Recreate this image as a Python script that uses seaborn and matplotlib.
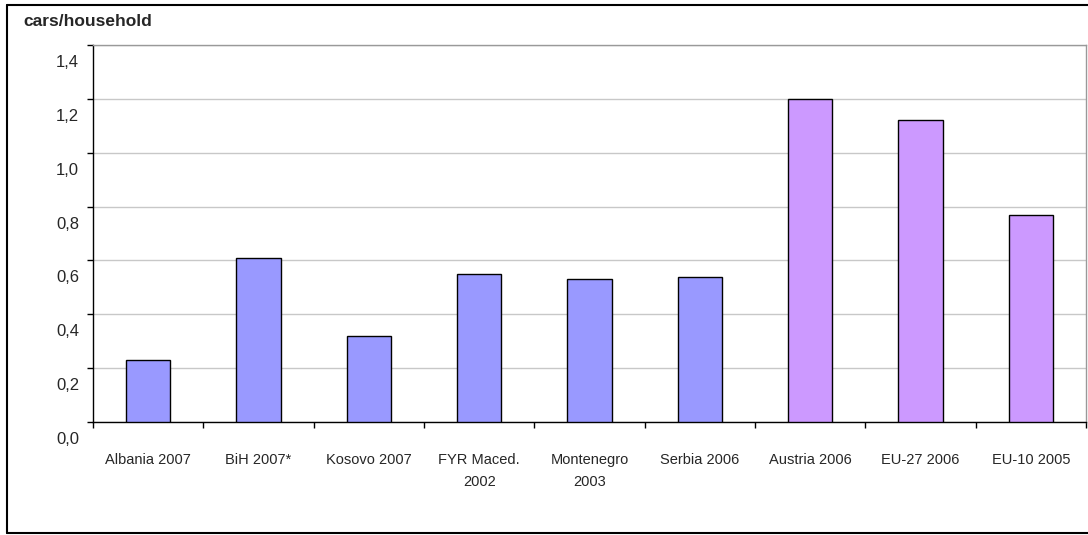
import matplotlib
matplotlib.use("Agg")
import matplotlib.pyplot as plt
import matplotlib.transforms as mtransforms
from matplotlib.lines import Line2D
import seaborn as sns
import pandas as pd

categories = ["Albania 2007", "BiH 2007*", "Kosovo 2007", "FYR Maced.\n2002",
              "Montenegro\n2003", "Serbia 2006", "Austria 2006", "EU-27 2006", "EU-10 2005"]
values = [0.23, 0.61, 0.32, 0.55, 0.53, 0.54, 1.20, 1.12, 0.77]
groups = ["region"] * 6 + ["eu"] * 3
group_colors = {"region": "#9999FF", "eu": "#CC99FF"}
yticks = [0.0, 0.2, 0.4, 0.6, 0.8, 1.0, 1.2, 1.4]
ytick_labels = ["0,0", "0,2", "0,4", "0,6", "0,8", "1,0", "1,2", "1,4"]
title = "cars/household"

sns.set_theme(style="white")
plt.rcParams["font.family"] = ["Liberation Sans", "DejaVu Sans"]

df = pd.DataFrame({"cat": categories, "val": values, "grp": groups})

fig = plt.figure(figsize=(10.88, 5.35), dpi=100)
ax = fig.add_axes([93 / 1088, 1 - 422 / 535, (1086 - 93) / 1088, (422 - 45) / 535])

sns.barplot(data=df, x="cat", y="val", hue="grp", palette=group_colors, dodge=False,
            saturation=1, width=0.4, edgecolor="black", linewidth=1.0, legend=False,
            ax=ax, zorder=3)

ax.set_ylim(0, 1.4)
ax.set_xlim(-0.5, len(categories) - 0.5)
ax.set_yticks(yticks)
ax.set_yticklabels(ytick_labels, fontsize=12)
ax.set_xlabel("")
ax.set_ylabel("")
ax.yaxis.grid(True, color="#c8c8c8", linewidth=1.0, zorder=0)
ax.set_axisbelow(True)

# x ticks at category boundaries, labels at centres
ax.set_xticks([i - 0.5 for i in range(len(categories) + 1)], minor=False)
ax.set_xticklabels([""] * (len(categories) + 1))
ax.set_xticks(range(len(categories)), minor=True)
ax.set_xticklabels(categories, minor=True, fontsize=10.5, linespacing=1.75)
ax.tick_params(axis="x", which="major", direction="out", length=4, width=1, color="black", bottom=True)
ax.tick_params(axis="x", which="minor", length=0, pad=22)
ax.tick_params(axis="y", direction="out", length=4, width=1, color="black", left=True, pad=6)

offset = mtransforms.ScaledTranslation(0, -16 / 100, fig.dpi_scale_trans)
for lbl in ax.get_yticklabels():
    lbl.set_transform(lbl.get_transform() + offset)

for s in ["left", "bottom"]:
    ax.spines[s].set_color("black")
    ax.spines[s].set_linewidth(1.0)
for s in ["top", "right"]:
    ax.spines[s].set_color("#999999")
    ax.spines[s].set_linewidth(1.0)

fig.text(23 / 1088, 1 - 22 / 535, title, fontsize=12.5, fontweight="bold",
         ha="left", va="center")

# outer chart border
for (x0, y0, x1, y1) in [(7, 5, 1088, 5), (7, 5, 7, 533), (7, 533, 1088, 533)]:
    fig.add_artist(Line2D([x0 / 1088, x1 / 1088], [1 - y0 / 535, 1 - y1 / 535],
                          color="black", linewidth=1.5, transform=fig.transFigure))

fig.savefig("out.png", dpi=100)
